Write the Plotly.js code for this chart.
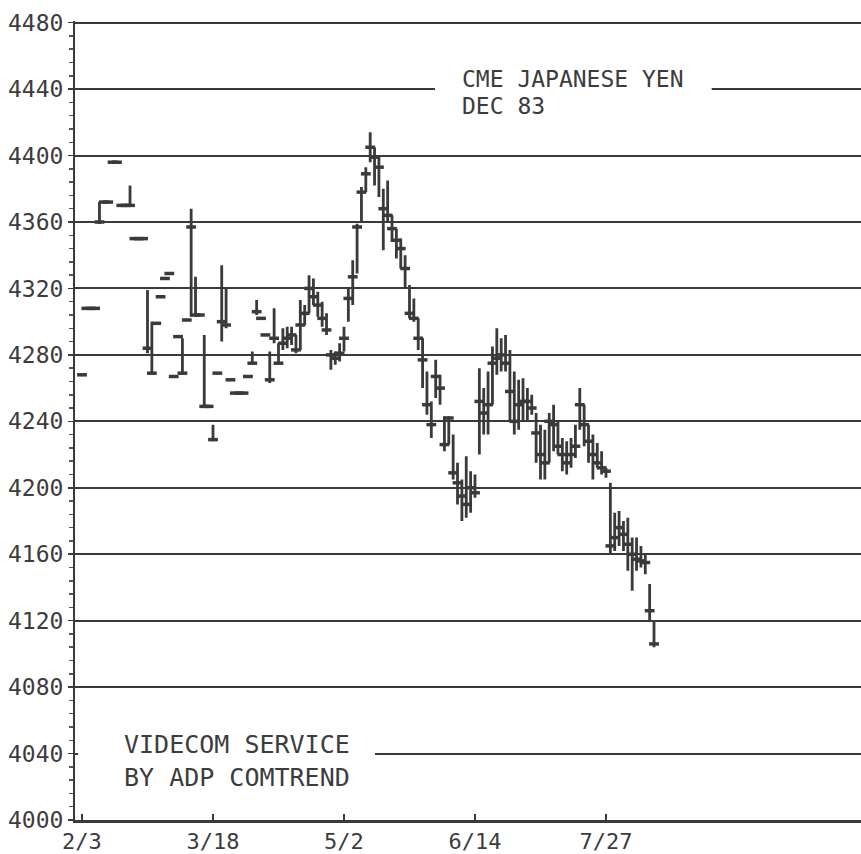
<!DOCTYPE html>
<html><head><meta charset="utf-8">
<script src="https://cdn.plot.ly/plotly-3.0.1.min.js"></script>
<style>html,body{margin:0;padding:0;background:#fff}#chart{width:861px;height:854px}</style>
</head><body><div id="chart"></div>
<script>
// Daily high / low / close, CME Japanese Yen Dec 83 (trading-day sequence from 2/3)
const high = [4268,4308,4308,4308,4372,4372,4372,4396,4396,4370,
4370,4382,4350,4350,4350,4319,4300,4299,4315,4326,
4329,4267,4291,4290,4301,4368,4327,4304,4292,4249,
4238,4269,4334,4320,4265,4257,4257,4257,4267,4282,
4313,4302,4292,4282,4308,4287,4296,4297,4297,4292,
4313,4310,4328,4326,4318,4312,4305,4283,4282,4287,
4297,4320,4337,4359,4381,4393,4414,4405,4400,4380,
4385,4364,4356,4350,4340,4322,4314,4302,4290,4270,
4252,4277,4268,4243,4243,4232,4215,4205,4219,4210,
4208,4272,4260,4270,4285,4296,4290,4292,4283,4270,
4265,4266,4260,4256,4245,4238,4235,4245,4250,4240,
4230,4228,4230,4238,4260,4250,4238,4232,4227,4222,
4212,4203,4185,4186,4180,4182,4170,4170,4165,4160,
4142,4120];
const low = [4268,4308,4308,4308,4359,4372,4372,4396,4396,4370,
4370,4370,4350,4350,4350,4281,4268,4299,4315,4326,
4329,4267,4291,4268,4301,4303,4303,4304,4249,4249,
4228,4269,4288,4296,4265,4257,4257,4257,4267,4275,
4304,4302,4292,4263,4287,4275,4283,4284,4286,4281,
4283,4298,4305,4310,4303,4297,4292,4271,4274,4276,
4282,4300,4310,4329,4360,4378,4396,4382,4375,4343,
4360,4348,4338,4332,4320,4302,4300,4283,4260,4244,
4230,4254,4250,4222,4226,4205,4190,4180,4182,4185,
4194,4220,4232,4232,4250,4268,4270,4270,4240,4232,
4235,4240,4240,4244,4215,4205,4205,4215,4222,4220,
4210,4208,4212,4218,4235,4225,4215,4205,4212,4208,
4206,4160,4162,4165,4162,4150,4138,4150,4152,4148,
4120,4104];
const close = [4268,4308,4308,4308,4360,4372,4372,4396,4396,4370,
4370,4370,4350,4350,4350,4284,4269,4299,4315,4326,
4329,4267,4291,4269,4301,4357,4304,4304,4249,4249,
4229,4269,4300,4298,4265,4257,4257,4257,4267,4275,
4306,4302,4292,4265,4290,4275,4287,4290,4292,4283,
4298,4305,4320,4315,4310,4302,4295,4280,4278,4281,
4290,4314,4327,4357,4378,4389,4405,4399,4393,4368,
4364,4356,4349,4344,4332,4305,4302,4290,4277,4250,
4238,4267,4260,4226,4242,4209,4203,4195,4190,4200,
4197,4252,4245,4250,4275,4278,4280,4275,4258,4240,
4250,4252,4252,4248,4233,4220,4215,4240,4238,4225,
4220,4215,4220,4225,4250,4238,4228,4220,4215,4212,
4210,4165,4170,4176,4172,4166,4160,4157,4156,4155,
4126,4106];
const dateTickDays = [0, 30, 60, 90, 120];
const dateTickLabels = ['2/3', '3/18', '5/2', '6/14', '7/27'];
const priceTicks = [4000,4040,4080,4120,4160,4200,4240,4280,4320,4360,4400,4440,4480];
const titleLines = ['CME JAPANESE YEN', 'DEC 83'];
const creditLines = ['VIDECOM SERVICE', 'BY ADP COMTREND'];

const day = close.map((_, i) => i);
const ink = '#3a3a3a';
const textInk = '#3c3c3c';
const monoFont = 'DejaVu Sans Mono, Liberation Mono, monospace';

const ranges = {
  type: 'ohlc', x: day, open: close, high: high, low: low, close: close,
  increasing: {line: {color: ink, width: 2.8}},
  decreasing: {line: {color: ink, width: 2.8}},
  tickwidth: 0.05, hoverinfo: 'skip', showlegend: false
};
const closes = {
  type: 'scatter', mode: 'markers', x: day, y: close,
  marker: {symbol: 'line-ew', size: 7, color: ink, line: {color: ink, width: 3.5}},
  hoverinfo: 'skip', showlegend: false
};

const layout = {
  width: 861, height: 854,
  margin: {l: 75, r: 0, t: 21, b: 34},
  paper_bgcolor: '#ffffff', plot_bgcolor: '#ffffff',
  showlegend: false,
  xaxis: {
    range: [-1.6, 178.4], tickmode: 'array', tickvals: dateTickDays, ticktext: dateTickLabels,
    ticks: 'inside', ticklen: 6, tickwidth: 2, tickcolor: ink,
    showline: true, linecolor: ink, linewidth: 2.5, showgrid: false, zeroline: false,
    rangeslider: {visible: false}, fixedrange: true,
    tickfont: {family: monoFont, size: 22, color: textInk}
  },
  yaxis: {
    range: [4000, 4481], tickmode: 'array', tickvals: priceTicks,
    ticks: 'outside', ticklen: 5, tickwidth: 1.5, tickcolor: ink,
    minor: {tickmode: 'linear', tick0: 4000, dtick: 8, ticks: 'outside', ticklen: 4, tickwidth: 1.5, tickcolor: '#555', showgrid: false},
    showline: true, linecolor: ink, linewidth: 2, showgrid: true, gridcolor: ink, gridwidth: 2,
    zeroline: false, fixedrange: true,
    tickfont: {family: monoFont, size: 23, color: textInk}
  },
  shapes: [
    {type: 'rect', xref: 'paper', yref: 'y', x0: 0.458, x1: 0.810, y0: 4432, y1: 4448, fillcolor: '#ffffff', line: {width: 0}, layer: 'above'},
    {type: 'rect', xref: 'paper', yref: 'y', x0: 0.004, x1: 0.3817, y0: 4032, y1: 4048, fillcolor: '#ffffff', line: {width: 0}, layer: 'above'}
  ],
  annotations: [
    {text: titleLines[0], xref: 'paper', yref: 'paper', x: 0.4898, y: 0.9268, xanchor: 'left', yanchor: 'middle', showarrow: false, font: {family: monoFont, size: 23, color: textInk}},
    {text: titleLines[1], xref: 'paper', yref: 'paper', x: 0.4898, y: 0.8930, xanchor: 'left', yanchor: 'middle', showarrow: false, font: {family: monoFont, size: 23, color: textInk}},
    {text: creditLines[0], xref: 'paper', yref: 'paper', x: 0.0598, y: 0.0939, xanchor: 'left', yanchor: 'middle', showarrow: false, font: {family: monoFont, size: 25, color: textInk}},
    {text: creditLines[1], xref: 'paper', yref: 'paper', x: 0.0598, y: 0.0538, xanchor: 'left', yanchor: 'middle', showarrow: false, font: {family: monoFont, size: 25, color: textInk}}
  ]
};

Plotly.newPlot('chart', [ranges, closes], layout, {staticPlot: true, displayModeBar: false});
</script>
</body></html>
